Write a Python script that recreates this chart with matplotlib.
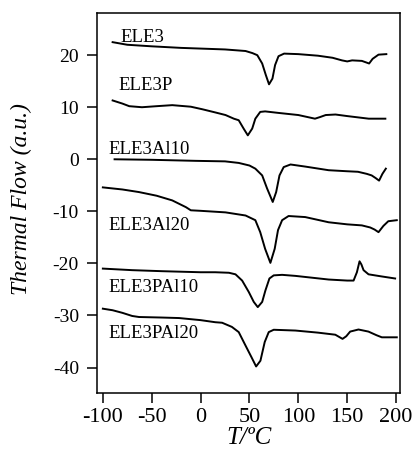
import numpy as np
import matplotlib
matplotlib.use("Agg")
import matplotlib.pyplot as plt

plt.rcParams['font.family'] = ['Liberation Serif', 'DejaVu Serif']
plt.rcParams['axes.unicode_minus'] = False   #tiret simple comme sur l'original

#Données (T en °C, flux en u.a.)
T_ELE3 = [-90, -75, -50, -20, 10, 25, 46, 53, 58, 63, 66.7, 70, 73.5, 76.2, 79.7, 85.4, 100, 120, 135, 144.6, 150, 155, 165, 172.4, 176, 182, 190]
F_ELE3 = [22.5, 22.0, 21.7, 21.4, 21.2, 21.1, 20.8, 20.4, 20.0, 18.4, 16.2, 14.4, 15.5, 18.1, 19.8, 20.3, 20.2, 19.9, 19.5, 19.0, 18.8, 19.0, 18.9, 18.4, 19.3, 20.1, 20.2]

T_ELE3P = [-90, -80, -73, -60, -45, -29, -10, 2, 15, 25.5, 34, 39, 44, 48.3, 52.8, 56, 61, 66, 80, 100, 117, 122, 128, 138, 150, 172, 189]
F_ELE3P = [11.3, 10.7, 10.2, 10.0, 10.2, 10.4, 10.1, 9.6, 9.0, 8.5, 7.8, 7.5, 5.9, 4.6, 5.9, 7.8, 9.1, 9.2, 8.9, 8.5, 7.8, 8.1, 8.5, 8.6, 8.3, 7.8, 7.8]

T_ELE3Al10 = [-88, -50, -5, 25, 39, 50, 56, 63, 68, 73.8, 77.3, 80.7, 85, 92, 107, 131, 150, 161, 170, 175, 179, 182.6, 186, 189.5]
F_ELE3Al10 = [0.0, -0.1, -0.3, -0.4, -0.7, -1.2, -1.8, -3.1, -5.6, -8.2, -6.3, -3.1, -1.5, -1.0, -1.4, -2.1, -2.3, -2.4, -2.8, -3.1, -3.6, -4.1, -2.8, -1.8]

T_ELE3Al20 = [-100, -80, -63, -45, -29, -15, -10, 0, 25.5, 46, 56, 61, 66, 71.4, 75.8, 79.2, 83.4, 90, 107, 131, 150, 165, 173.5, 178, 182, 187, 192, 200.7]
F_ELE3Al20 = [-5.4, -5.8, -6.3, -7.0, -7.9, -9.2, -9.8, -9.9, -10.2, -10.8, -11.7, -14.0, -17.2, -19.9, -17.2, -13.6, -11.7, -10.9, -11.1, -12.1, -12.5, -12.7, -13.1, -13.5, -14.0, -12.8, -11.9, -11.7]

T_ELE3PAl10 = [-100, -70, -39, 0, 15, 29, 35.7, 42.5, 49.3, 54.4, 58.5, 63, 66.3, 70.4, 74.8, 83.4, 97, 131, 150, 156.5, 159.9, 162.6, 164.5, 166.7, 171.8, 185, 199]
F_ELE3PAl10 = [-21.0, -21.3, -21.5, -21.7, -21.7, -21.8, -22.1, -23.3, -25.5, -27.4, -28.4, -27.4, -25.2, -22.9, -22.3, -22.2, -22.4, -23.1, -23.3, -23.3, -21.7, -19.6, -20.2, -21.3, -22.1, -22.5, -22.9]

T_ELE3PAl20 = [-100, -90, -80, -70, -63, -40, -22, 0, 15, 22, 32, 39, 46, 52, 56.8, 61.2, 65.6, 69.7, 74.8, 97, 120, 137.8, 145.2, 149, 153, 161.5, 171.7, 180, 185.4, 200.7]
F_ELE3PAl20 = [-28.7, -29.0, -29.5, -30.1, -30.3, -30.4, -30.5, -30.9, -31.3, -31.4, -32.2, -33.2, -35.8, -38.0, -39.8, -38.7, -35.1, -33.2, -32.75, -32.9, -33.3, -33.7, -34.5, -34.0, -33.1, -32.7, -33.1, -33.8, -34.2, -34.2]

noms = ["ELE3", "ELE3P", "ELE3Al10", "ELE3Al20", "ELE3PAl10", "ELE3PAl20"]
#position (T, flux) du coin bas-gauche de chaque étiquette
pos_noms = [(-82, 22.6), (-84, 13.3), (-94, 1.1), (-94, -13.5), (-94, -25.5), (-94, -34.4)]

courbes = [(T_ELE3, F_ELE3), (T_ELE3P, F_ELE3P), (T_ELE3Al10, F_ELE3Al10),
           (T_ELE3Al20, F_ELE3Al20), (T_ELE3PAl10, F_ELE3PAl10), (T_ELE3PAl20, F_ELE3PAl20)]

fig = plt.figure(figsize=(4.12, 4.58), dpi=100)
ax = fig.add_axes([0.2354, 0.1419, 0.7355, 0.8297])

for (T, F) in courbes:
    ax.plot(T, F, color='black', linewidth=1.4, solid_joinstyle='round')

for nom, (xt, yt) in zip(noms, pos_noms):
    ax.text(xt, yt, nom, fontsize=13.5, ha='left', va='baseline')

ax.set_xlim(-106, 204)
ax.set_ylim(-44.9, 28.1)
ax.set_xticks(np.arange(-100, 201, 50))
ax.set_yticks(np.arange(-40, 21, 10))

ax.tick_params(axis='y', direction='out', length=7, width=1.1, labelsize=14, pad=6)
ax.tick_params(axis='x', direction='out', length=7, width=1.1, labelsize=16, pad=4)
for sp in ax.spines.values():
    sp.set_linewidth(1.1)

ax.set_xlabel('T/ºC', fontsize=18, style='italic', labelpad=0)
ax.set_ylabel('Thermal Flow (a.u.)', fontsize=17, style='italic')
ax.yaxis.set_label_coords(-0.215, 0.51)

plt.savefig('out.png', dpi=100)
